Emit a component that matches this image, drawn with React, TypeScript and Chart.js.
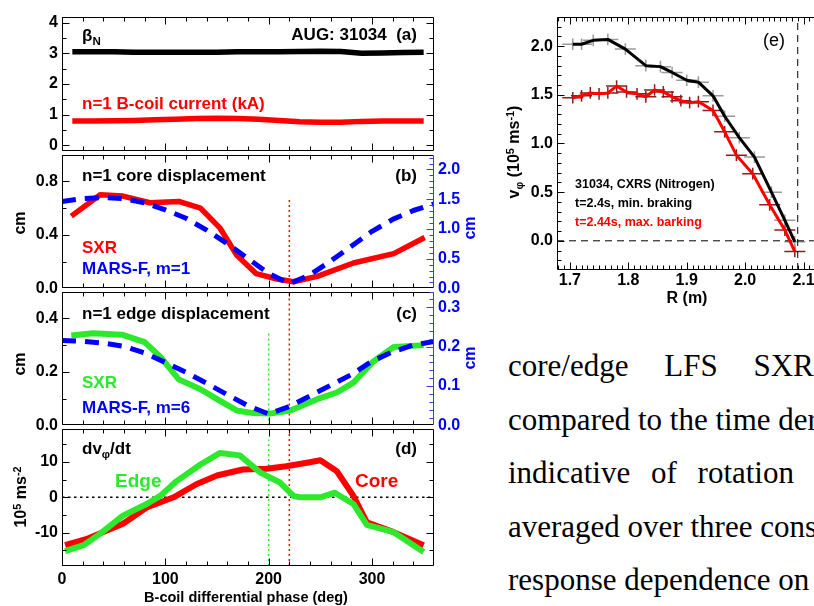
import React, { useEffect, useRef } from "react";
import { Chart, registerables } from "chart.js";
Chart.register(...registerables);

const SANS = '"Liberation Sans", Arial, Helvetica, sans-serif';
const SERIF = '"Liberation Serif", "Times New Roman", serif';

// ================= DATA =================
// (a) beta_N and n=1 B-coil current vs B-coil differential phase
const phaseA = [10, 30, 50, 70, 90, 110, 130, 150, 170, 190, 210, 230, 250, 270, 290, 310, 330, 350];
const betaN = [3.05, 3.05, 3.05, 3.04, 3.04, 3.04, 3.04, 3.04, 3.05, 3.05, 3.05, 3.06, 3.07, 3.06, 3.0, 3.01, 3.03, 3.04];
const coilCurrent = [0.79, 0.79, 0.8, 0.81, 0.83, 0.85, 0.87, 0.88, 0.87, 0.85, 0.81, 0.77, 0.75, 0.75, 0.78, 0.79, 0.79, 0.79];

// (b) n=1 core displacement
const phaseCoreSXR = [9, 37, 59, 85, 113, 134, 153, 169, 188, 208, 224, 247, 282, 321, 351];
const coreSXR = [0.54, 0.7, 0.69, 0.64, 0.65, 0.6, 0.45, 0.25, 0.11, 0.07, 0.05, 0.09, 0.19, 0.26, 0.38];
const phaseMARS = [0, 20, 40, 60, 80, 100, 120, 140, 160, 180, 200, 220, 240, 260, 280, 300, 320, 340, 360];
const coreMARS = [1.46, 1.51, 1.53, 1.51, 1.44, 1.32, 1.18, 0.98, 0.75, 0.5, 0.25, 0.08, 0.23, 0.46, 0.71, 0.96, 1.16, 1.31, 1.42];

// (c) n=1 edge displacement
const phaseEdgeSXR = [9, 30, 58, 80, 95, 113, 134, 150, 169, 185, 201, 221, 247, 266, 282, 301, 321, 350];
const edgeSXR = [0.336, 0.344, 0.339, 0.311, 0.257, 0.172, 0.135, 0.098, 0.056, 0.046, 0.044, 0.056, 0.098, 0.123, 0.16, 0.238, 0.293, 0.3];
const edgeMARS = [0.216, 0.214, 0.209, 0.201, 0.184, 0.16, 0.135, 0.107, 0.078, 0.05, 0.029, 0.048, 0.075, 0.102, 0.129, 0.163, 0.187, 0.204, 0.213];

// (d) dv_phi/dt
const phaseDvCore = [3, 25, 59, 82, 108, 130, 150, 175, 198, 217, 237, 250, 266, 282, 295, 321, 350];
const dvCore = [-13.6, -11.7, -7.5, -2.9, 0, 3.7, 6.2, 7.9, 8.1, 8.8, 9.8, 10.5, 7.4, 0.4, -7.1, -9.9, -13.6];
const phaseDvEdge = [3, 21, 37, 59, 82, 95, 111, 134, 153, 172, 192, 211, 224, 230, 250, 264, 282, 295, 321, 350];
const dvEdge = [-15.3, -13.6, -10.3, -5.2, -1.9, 0.4, 4.6, 9.3, 12.6, 11.9, 7.0, 4.2, 0.4, 0, 0, 1.3, -1.9, -7.8, -9.9, -15.5];

// phases of minimum displacement (marker lines)
const phaseCoreMin = 220;
const phaseEdgeMin = 200;

// (e) CXRS rotation profiles
const rMinBraking = [1.705, 1.72, 1.74, 1.765, 1.795, 1.83, 1.855, 1.875, 1.9, 1.92, 1.945, 1.965, 1.99, 2.016, 2.045, 2.068, 2.085];
const vMinBraking = [2.02, 2.02, 2.06, 2.07, 1.97, 1.8, 1.79, 1.73, 1.65, 1.63, 1.49, 1.28, 1.06, 0.86, 0.5, 0.21, -0.01];
const rMaxBraking = [1.705, 1.72, 1.735, 1.75, 1.765, 1.78, 1.797, 1.815, 1.83, 1.845, 1.86, 1.875, 1.89, 1.905, 1.92, 1.945, 1.965, 1.985, 2.013, 2.042, 2.068, 2.085];
const vMaxBraking = [1.47, 1.49, 1.52, 1.51, 1.52, 1.59, 1.53, 1.51, 1.48, 1.55, 1.53, 1.48, 1.44, 1.42, 1.43, 1.34, 1.12, 0.88, 0.69, 0.37, 0.11, -0.11];
const errR = 0.018;
const errV = 0.06;
const rSeparatrix = 2.09;

// tick labels
const phaseTicks = [0, 100, 200, 300];
const ticksA = [0, 1, 2, 3, 4];
const ticksB = [0, 0.4, 0.8];
const ticksB2 = [0, 0.5, 1.0, 1.5, 2.0];
const ticksC = [0, 0.2, 0.4];
const ticksC2 = [0, 0.1, 0.2, 0.3];
const ticksD = [-10, 0, 10];
const ticksRx = [1.7, 1.8, 1.9, 2.0, 2.1];
const ticksVy = [0, 0.5, 1.0, 1.5, 2.0];

// ================= HELPERS =================
function steps(a: number, b: number, s: number) {
  const out: number[] = [];
  for (let v = a; v <= b + s * 1e-6; v += s) out.push(Math.round(v * 1e6) / 1e6);
  return out;
}

const RED = "#ff0000";
const GREEN = "#2ee82e";
const BLUE = "#0000ff";

const boxTicks = {
  id: "boxTicks",
  afterDraw(chart: any, _a: any, o: any) {
    const { ctx, chartArea: a, scales } = chart;
    const L = Math.round(a.left) + 0.5;
    const R = Math.round(a.right) - 0.5;
    const T = Math.round(a.top) + 0.5;
    const B = Math.round(a.bottom) - 0.5;
    ctx.save();
    ctx.lineWidth = 1;
    const seg = (x1: number, y1: number, x2: number, y2: number, c: string) => {
      ctx.strokeStyle = c;
      ctx.beginPath();
      ctx.moveTo(x1, y1);
      ctx.lineTo(x2, y2);
      ctx.stroke();
    };
    const rc = o.rightColor || "#000";
    seg(L, T, R, T, "#000");
    seg(L, B, R, B, "#000");
    seg(L, T, L, B, "#000");
    seg(R, T, R, B, rc);
    const xs = scales.x;
    const tickX = (vals: number[], len: number) =>
      vals.forEach((v) => {
        const p = Math.round(xs.getPixelForValue(v)) + 0.5;
        if (p < L - 0.1 || p > R + 0.1) return;
        seg(p, B, p, B - len, "#000");
        seg(p, T, p, T + len, "#000");
      });
    tickX(o.xMinor, o.minorLen);
    tickX(o.xMajor, o.majorLen);
    const tickY = (scale: any, vals: number[], len: number, side: string, c: string) =>
      vals.forEach((v) => {
        const p = Math.round(scale.getPixelForValue(v)) + 0.5;
        if (p < T - 0.1 || p > B + 0.1) return;
        if (side === "L") seg(L, p, L + len, p, c);
        else seg(R, p, R - len, p, c);
      });
    const ys = scales.y;
    tickY(ys, o.yMinor, o.minorLen, "L", "#000");
    tickY(ys, o.yMajor, o.majorLen, "L", "#000");
    if (scales.y2) {
      tickY(scales.y2, o.y2Minor, o.minorLen, "R", rc);
      tickY(scales.y2, o.y2Major, o.majorLen, "R", rc);
    } else {
      tickY(ys, o.yMinor, o.minorLen, "R", "#000");
      tickY(ys, o.yMajor, o.majorLen, "R", "#000");
    }
    ctx.restore();
  },
};

const errBars = {
  id: "errBars",
  beforeDatasetsDraw(chart: any) {
    const { ctx, chartArea: a, scales } = chart;
    const x = scales.x;
    const y = scales.y;
    ctx.save();
    ctx.beginPath();
    ctx.rect(a.left, a.top, a.right - a.left, a.bottom - a.top);
    ctx.clip();
    chart.data.datasets.forEach((ds: any) => {
      if (ds.errX === undefined) return;
      ctx.strokeStyle = ds.errColor;
      ctx.lineWidth = 1.5;
      ds.data.forEach((pt: any) => {
        const px = x.getPixelForValue(pt.x);
        const py = y.getPixelForValue(pt.y);
        ctx.beginPath();
        ctx.moveTo(x.getPixelForValue(pt.x - ds.errX), py);
        ctx.lineTo(x.getPixelForValue(pt.x + ds.errX), py);
        ctx.moveTo(px, y.getPixelForValue(pt.y - ds.errY));
        ctx.lineTo(px, y.getPixelForValue(pt.y + ds.errY));
        ctx.stroke();
      });
    });
    ctx.restore();
  },
};

const tickFont = { family: SANS, size: 16, weight: "bold" as const };

function yScale(min: number, max: number, ticks: number[], fmt: (v: number) => string, pos: string, width: number, color: string) {
  return {
    type: "linear",
    position: pos,
    min,
    max,
    bounds: "data",
    afterFit: (s: any) => {
      s.width = width;
    },
    afterBuildTicks: (s: any) => {
      s.ticks = ticks.map((v) => ({ value: v }));
    },
    ticks: { color, font: tickFont, padding: 4, autoSkip: false, callback: (v: any) => fmt(Number(v)) },
    grid: { display: false, drawTicks: false },
    border: { display: false },
  };
}

function xScale(min: number, max: number, ticks: number[], fmt: (v: number) => string, show: boolean, height: number, pad: number) {
  return {
    type: "linear",
    position: "bottom",
    min,
    max,
    bounds: "data",
    afterFit: (s: any) => {
      s.height = height;
    },
    afterBuildTicks: (s: any) => {
      s.ticks = ticks.map((v) => ({ value: v }));
    },
    ticks: { display: show, color: "#000", font: tickFont, padding: pad, maxRotation: 0, autoSkip: false, callback: (v: any) => fmt(Number(v)) },
    grid: { display: false, drawTicks: false },
    border: { display: false },
  };
}

function line(xs: number[], ys: number[], color: string, width: number, dash: number[] = [], yAxisID = "y", extra: any = {}) {
  return {
    data: xs.map((x, i) => ({ x, y: ys[i] })),
    borderColor: color,
    borderWidth: width,
    borderDash: dash,
    pointRadius: 0,
    fill: false,
    tension: 0,
    yAxisID,
    borderCapStyle: "butt",
    borderJoinStyle: "round",
    ...extra,
  };
}

const f0 = (v: number) => v.toFixed(0);
const f1 = (v: number) => v.toFixed(1);

function makeChart(canvas: HTMLCanvasElement, datasets: any[], scales: any, padding: any, box: any) {
  return new Chart(canvas, {
    type: "line",
    data: { datasets },
    options: {
      animation: false,
      responsive: false,
      devicePixelRatio: 1,
      events: [],
      layout: { padding },
      plugins: { legend: { display: false }, tooltip: { enabled: false }, boxTicks: box } as any,
      scales,
    } as any,
    plugins: [boxTicks, errBars] as any,
  });
}

const PH_MIN = 0;
const PH_MAX = 360;
const phaseBox = { xMajor: phaseTicks, xMinor: steps(0, 360, 20), majorLen: 7, minorLen: 4 };

// ================= COMPONENTS =================
function Txt({ x, y, size = 17, color = "#000", bold = true, align = "left", family = SANS, rotate = false, children, extra = {} }: any) {
  const style: React.CSSProperties = {
    position: "absolute",
    top: y,
    fontFamily: family,
    fontSize: size,
    fontWeight: bold ? 700 : 400,
    color,
    lineHeight: 1,
    whiteSpace: "nowrap",
    ...extra,
  };
  if (rotate) {
    style.left = x;
    style.transform = "translate(-50%, -50%) rotate(-90deg)";
  } else if (align === "right") {
    style.right = 814 - x;
    style.transform = "translateY(-50%)";
  } else if (align === "center") {
    style.left = x;
    style.transform = "translate(-50%, -50%)";
  } else {
    style.left = x;
    style.transform = "translateY(-50%)";
  }
  return <div style={style}>{children}</div>;
}
const Sub = ({ children }: any) => <span style={{ fontSize: "0.68em", position: "relative", top: "0.35em" }}>{children}</span>;
const Sup = ({ children }: any) => <span style={{ fontSize: "0.68em", position: "relative", top: "-0.5em" }}>{children}</span>;

export default function App() {
  const refA = useRef<HTMLCanvasElement>(null);
  const refB = useRef<HTMLCanvasElement>(null);
  const refC = useRef<HTMLCanvasElement>(null);
  const refD = useRef<HTMLCanvasElement>(null);
  const refE = useRef<HTMLCanvasElement>(null);

  useEffect(() => {
    const charts: Chart[] = [];
    // (a)
    charts.push(
      makeChart(
        refA.current!,
        [line(phaseA, betaN, "#000", 5.5), line(phaseA, coilCurrent, RED, 5.5)],
        { x: xScale(PH_MIN, PH_MAX, phaseTicks, f0, false, 12, 0), y: yScale(-0.2, 4.2, ticksA, f0, "left", 62, "#000") },
        { top: 12, right: 46, left: 0, bottom: 0 },
        { ...phaseBox, yMajor: ticksA, yMinor: steps(0, 4, 0.5) }
      )
    );
    // (b)
    charts.push(
      makeChart(
        refB.current!,
        [
          line(phaseMARS, coreMARS, BLUE, 5, [14, 9], "y2"),
          line(phaseCoreSXR, coreSXR, RED, 5.5),
          line([phaseCoreMin, phaseCoreMin], [0.66, 0], RED, 1.5, [2, 3]),
        ],
        {
          x: xScale(PH_MIN, PH_MAX, phaseTicks, f0, false, 12, 0),
          y: yScale(0, 1.0, ticksB, f1, "left", 62, "#000"),
          y2: yScale(0, 2.25, ticksB2, f1, "right", 46, BLUE),
        },
        { top: 12, right: 0, left: 0, bottom: 0 },
        { ...phaseBox, yMajor: ticksB, yMinor: steps(0, 1, 0.2), y2Major: ticksB2, y2Minor: steps(0, 2.2, 0.1), rightColor: "#3b3bff" }
      )
    );
    // (c)
    charts.push(
      makeChart(
        refC.current!,
        [
          line(phaseMARS, edgeMARS, BLUE, 5, [14, 9], "y2"),
          line(phaseEdgeSXR, edgeSXR, GREEN, 6),
          line([phaseCoreMin, phaseCoreMin], [0, 0.5], RED, 1.5, [2, 3]),
          line([phaseEdgeMin, phaseEdgeMin], [0, 0.355], GREEN, 1.5, [2, 3]),
        ],
        {
          x: xScale(PH_MIN, PH_MAX, phaseTicks, f0, false, 12, 0),
          y: yScale(0, 0.5, ticksC, f1, "left", 62, "#000"),
          y2: yScale(0, 0.34, ticksC2, f1, "right", 46, BLUE),
        },
        { top: 12, right: 0, left: 0, bottom: 0 },
        { ...phaseBox, yMajor: ticksC, yMinor: steps(0, 0.5, 0.1), y2Major: ticksC2, y2Minor: steps(0, 0.34, 0.02), rightColor: "#3b3bff" }
      )
    );
    // (d)
    charts.push(
      makeChart(
        refD.current!,
        [
          line(phaseDvEdge, dvEdge, GREEN, 6),
          line(phaseDvCore, dvCore, RED, 6),
          line([PH_MIN, PH_MAX], [0, 0], "#000", 1.5, [2.5, 3.5]),
          line([phaseCoreMin, phaseCoreMin], [-19.5, 19.5], RED, 1.5, [2, 3]),
          line([phaseEdgeMin, phaseEdgeMin], [-19.5, 16.4], GREEN, 1.5, [2, 3]),
        ],
        { x: xScale(PH_MIN, PH_MAX, phaseTicks, f0, true, 40, 4), y: yScale(-19.5, 19.5, ticksD, f0, "left", 62, "#000") },
        { top: 12, right: 46, left: 0, bottom: 0 },
        { ...phaseBox, yMajor: ticksD, yMinor: steps(-15, 15, 5) }
      )
    );
    // (e)
    charts.push(
      makeChart(
        refE.current!,
        [
          line(rMaxBraking, vMaxBraking, RED, 3, [], "y", { errX: errR, errY: errV, errColor: "#8e1c1c" }),
          line(rMinBraking, vMinBraking, "#000", 3, [], "y", { errX: errR, errY: errV, errColor: "#9a9a9a" }),
          line([1.678, 2.2], [0, 0], "#000", 1, [7, 5]),
          line([rSeparatrix, rSeparatrix], [-0.3, 2.3], "#000", 1, [7, 5]),
        ],
        { x: xScale(1.678, 2.2, ticksRx, f1, true, 50, 1), y: yScale(-0.3, 2.3, ticksVy, f1, "left", 57, "#000") },
        { top: 17, right: 8, left: 0, bottom: 0 },
        { xMajor: ticksRx, xMinor: steps(1.68, 2.2, 0.01), yMajor: ticksVy, yMinor: steps(-0.3, 2.3, 0.1), majorLen: 7, minorLen: 4 }
      )
    );
    return () => charts.forEach((c) => c.destroy());
  }, []);

  const cv = (ref: any, left: number, top: number, w: number, h: number) => (
    <canvas ref={ref} width={w} height={h} style={{ position: "absolute", left, top, width: w, height: h }} />
  );

  const paraCenter = [366, 419.5, 473, 526.5, 580];
  const para = (i: number, text: string, ws = 0) => (
    <div
      style={{
        position: "absolute",
        left: 508,
        top: paraCenter[i] - 16,
        fontFamily: SERIF,
        fontSize: 31,
        lineHeight: 1,
        whiteSpace: "nowrap",
        color: "#000",
        wordSpacing: ws,
      }}
    >
      {text}
    </div>
  );

  return (
    <div style={{ position: "absolute", left: 0, top: 0, width: 814, height: 606, overflow: "hidden", background: "#fff" }}>
      {cv(refA, 0, 3, 480, 162)}
      {cv(refB, 0, 141, 480, 161)}
      {cv(refC, 0, 278, 480, 161)}
      {cv(refD, 0, 415, 480, 191)}
      {cv(refE, 500, 0, 370, 320)}

      {/* panel (a) */}
      <Txt x={82} y={35}>
        β<Sub>N</Sub>
      </Txt>
      <Txt x={417} y={34} align="right">AUG: 31034&nbsp;&nbsp;(a)</Txt>
      <Txt x={82} y={103} color={RED}>n=1 B-coil current (kA)</Txt>

      {/* panel (b) */}
      <Txt x={82} y={175}>n=1 core displacement</Txt>
      <Txt x={417} y={175} align="right">(b)</Txt>
      <Txt x={82} y={247} color={RED}>SXR</Txt>
      <Txt x={82} y={268} color={BLUE}>MARS-F, m=1</Txt>
      <Txt x={20} y={223} rotate size={16}>cm</Txt>
      <Txt x={470} y={228} rotate size={16} color={BLUE}>cm</Txt>

      {/* panel (c) */}
      <Txt x={82} y={313}>n=1 edge displacement</Txt>
      <Txt x={417} y={313} align="right">(c)</Txt>
      <Txt x={82} y={382} color={GREEN}>SXR</Txt>
      <Txt x={82} y={407} color={BLUE}>MARS-F, m=6</Txt>
      <Txt x={20} y={364} rotate size={16}>cm</Txt>
      <Txt x={470} y={358} rotate size={16} color={BLUE}>cm</Txt>

      {/* panel (d) */}
      <Txt x={82} y={448}>
        dv<Sub>φ</Sub>/dt
      </Txt>
      <Txt x={417} y={448} align="right">(d)</Txt>
      <Txt x={115} y={480} size={19} color={GREEN}>Edge</Txt>
      <Txt x={355} y={480} size={19} color={RED}>Core</Txt>
      <Txt x={21} y={497} rotate size={16}>
        10<Sup>5</Sup> ms<Sup>-2</Sup>
      </Txt>
      <Txt x={246} y={597} align="center" size={14.5}>B-coil differential phase (deg)</Txt>

      {/* panel (e) */}
      <Txt x={763} y={40} size={18} bold={false}>(e)</Txt>
      <Txt x={575} y={184} size={12.5}>31034, CXRS (Nitrogen)</Txt>
      <Txt x={575} y={203} size={12.5}>t=2.4s, min. braking</Txt>
      <Txt x={575} y={222} size={12.5} color={RED}>t=2.44s, max. barking</Txt>
      <Txt x={687} y={298} align="center" size={16}>R (m)</Txt>
      <Txt x={514} y={152} rotate size={16}>
        v<Sub>φ</Sub> (10<Sup>5</Sup> ms<Sup>-1</Sup>)
      </Txt>

      {/* body text */}
      {para(0, "core/edge LFS SXR measurements", 28)}
      {para(1, "compared to the time derivative")}
      {para(2, "indicative of rotation braking", 13)}
      {para(3, "averaged over three consecutive")}
      {para(4, "response dependence on")}
    </div>
  );
}
